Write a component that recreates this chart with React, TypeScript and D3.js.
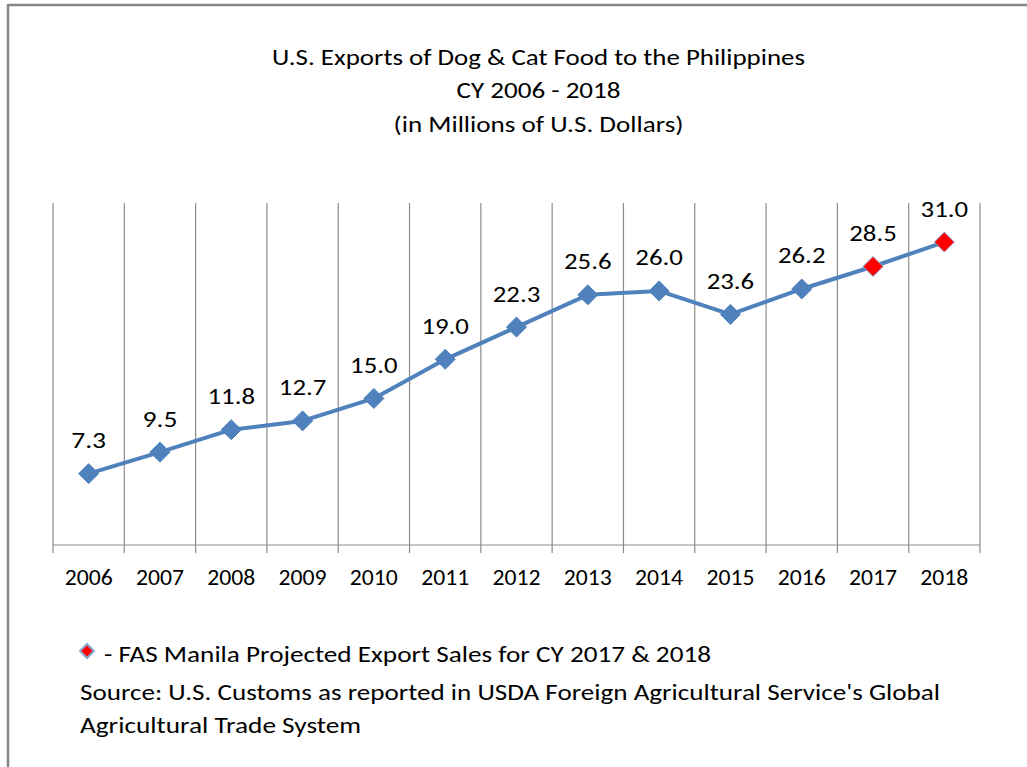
import React from "react";
import * as d3 from "d3";

const years = ["2006","2007","2008","2009","2010","2011","2012","2013","2014","2015","2016","2017","2018"];
const values = [7.3, 9.5, 11.8, 12.7, 15.0, 19.0, 22.3, 25.6, 26.0, 23.6, 26.2, 28.5, 31.0];
const projected = ["2017", "2018"];
const titleLines = ["U.S. Exports of Dog & Cat Food to the Philippines", "CY 2006 - 2018", "(in Millions of U.S. Dollars)"];
const noteLines = [
  "Source: U.S. Customs as reported in USDA Foreign Agricultural Service's Global",
  "Agricultural Trade System",
];
const legendText = "- FAS Manila Projected Export Sales for CY 2017 & 2018";

const W = 1027, H = 767;
const FONT = "Carlito, Lato, 'Open Sans', sans-serif";
const BLUE = "#4F81BD";
const titleWidths = [533, 164, 290];
const noteWidths = [860, 281];

export default function App() {
  const x = d3.scaleBand<string>().domain(years).range([53, 980]).padding(0);
  const y = d3.scaleLinear().domain([0, 35]).range([545, 203]);
  const cx = (d: string) => (x(d) as number) + x.bandwidth() / 2;
  const line = d3.line<number>().x((_, i) => cx(years[i])).y((v) => y(v));
  const diamond = (px: number, py: number, r: number) =>
    `M${px},${py - r}L${px + r},${py}L${px},${py + r}L${px - r},${py}Z`;
  const boundaries = years.map((d) => x(d) as number).concat([980]);
  const labelWidth = (s: string) => s.replace(/\./g, "").length * 12.5 + (s.includes(".") ? 10 : 0);

  return (
    <svg width={W} height={H} style={{ position: "absolute", left: 0, top: 0, background: "#fff" }} fontFamily={FONT}>
      <rect x={0} y={0} width={W} height={H} fill="#fff" />
      <line x1={8} y1={5} x2={W} y2={5} stroke="#888" strokeWidth={2.5} />
      <line x1={8} y1={4} x2={8} y2={H} stroke="#888" strokeWidth={2.5} />
      {titleLines.map((t, i) => (
        <text key={t} x={538.5} y={57 + i * 33.5} textAnchor="middle" dominantBaseline="central" fontSize={22}
          textLength={titleWidths[i]} lengthAdjust="spacingAndGlyphs" fill="#000">{t}</text>
      ))}
      {boundaries.map((bx, i) => (
        <line key={i} x1={bx} x2={bx} y1={203} y2={553} stroke="#8c8c8c" strokeWidth={1.2} />
      ))}
      <line x1={53} x2={980} y1={y(0)} y2={y(0)} stroke="#8c8c8c" strokeWidth={1.2} />
      {years.map((d) => (
        <text key={d} x={cx(d)} y={577} textAnchor="middle" dominantBaseline="central" fontSize={22.5}
          textLength={48} lengthAdjust="spacingAndGlyphs" fill="#000">{d}</text>
      ))}
      <path d={line(values) || ""} fill="none" stroke={BLUE} strokeWidth={4} strokeLinejoin="round" />
      {values.map((v, i) => {
        const isProj = projected.includes(years[i]);
        const s = v.toFixed(1);
        return (
          <g key={years[i]}>
            <path d={diamond(cx(years[i]), y(v), 10)} fill={isProj ? "#FF0000" : BLUE} stroke={isProj ? "#8aa6d0" : BLUE} strokeWidth={1} />
            <text x={cx(years[i])} y={y(v) - 33} textAnchor="middle" dominantBaseline="central" fontSize={22}
              textLength={labelWidth(s)} lengthAdjust="spacingAndGlyphs" fill="#000">{s}</text>
          </g>
        );
      })}
      <path d={diamond(87, 651, 7)} fill="#FF0000" stroke="#8aa6d0" strokeWidth={2} />
      <text x={104} y={654} dominantBaseline="central" fontSize={22} textLength={607} lengthAdjust="spacingAndGlyphs" fill="#000">{legendText}</text>
      {noteLines.map((t, i) => (
        <text key={t} x={80} y={692 + i * 33} dominantBaseline="central" fontSize={22}
          textLength={noteWidths[i]} lengthAdjust="spacingAndGlyphs" fill="#000">{t}</text>
      ))}
    </svg>
  );
}
